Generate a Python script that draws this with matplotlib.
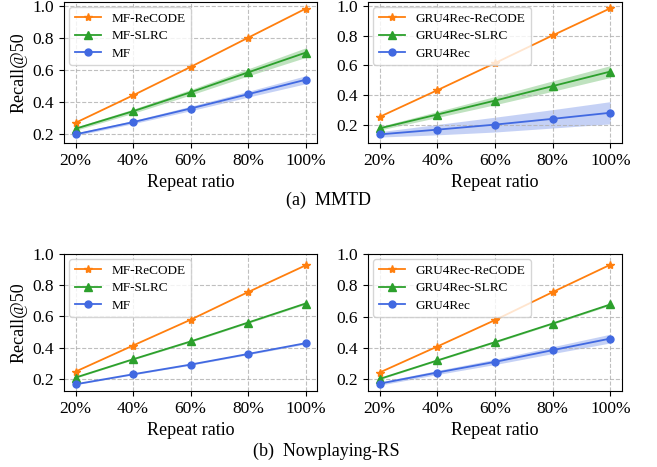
import numpy as np
import matplotlib
matplotlib.use("Agg")
import matplotlib.pyplot as plt

plt.rcParams['font.family'] = ['Liberation Serif', 'DejaVu Serif']
plt.rcParams['mathtext.fontset'] = 'stix'

ratios = [20, 40, 60, 80, 100]
tick_labels = ['20%', '40%', '60%', '80%', '100%']

# MMTD, MF backbone
mmtd_mf_recode = [0.272, 0.443, 0.620, 0.802, 0.983]
mmtd_mf_slrc = [0.235, 0.344, 0.462, 0.586, 0.709]
mmtd_mf_slrc_err = [0.010, 0.013, 0.017, 0.022, 0.030]
mmtd_mf = [0.200, 0.276, 0.361, 0.450, 0.540]
mmtd_mf_err = [0.008, 0.010, 0.014, 0.018, 0.025]

# MMTD, GRU4Rec backbone
mmtd_gru_recode = [0.252, 0.432, 0.615, 0.802, 0.985]
mmtd_gru_slrc = [0.175, 0.268, 0.362, 0.460, 0.558]
mmtd_gru_slrc_err = [0.012, 0.020, 0.028, 0.035, 0.040]
mmtd_gru = [0.134, 0.166, 0.200, 0.239, 0.280]
mmtd_gru_err = [0.018, 0.035, 0.050, 0.062, 0.075]

# Nowplaying-RS, MF backbone
np_mf_recode = [0.247, 0.414, 0.579, 0.756, 0.927]
np_mf_slrc = [0.209, 0.326, 0.440, 0.561, 0.683]
np_mf_slrc_err = [0.004, 0.004, 0.005, 0.005, 0.006]
np_mf = [0.166, 0.230, 0.292, 0.360, 0.429]
np_mf_err = [0.003, 0.004, 0.004, 0.005, 0.006]

# Nowplaying-RS, GRU4Rec backbone
np_gru_recode = [0.243, 0.409, 0.578, 0.757, 0.932]
np_gru_slrc = [0.202, 0.320, 0.437, 0.556, 0.678]
np_gru_slrc_err = [0.004, 0.004, 0.005, 0.005, 0.006]
np_gru = [0.172, 0.243, 0.311, 0.386, 0.460]
np_gru_err = [0.010, 0.013, 0.017, 0.022, 0.028]

c_orange = '#ff7f0e'
c_green = '#2ca02c'
c_blue = '#4169e1'

fig = plt.figure(figsize=(6.57, 4.67), dpi=100)
W, H = 657, 467


def add_ax(l, t, r, b):
    return fig.add_axes([l / W, 1 - b / H, (r - l) / W, (b - t) / H])


def panel(ax, recode, slrc, slrc_err, base, base_err, names, ylim, ylabel):
    x = np.array(ratios)
    ax.plot(x, recode, '-', marker='*', color=c_orange, lw=1.3, ms=6, label=names[0])
    s = np.array(slrc); se = np.array(slrc_err)
    ax.fill_between(x, s - se, s + se, color=c_green, alpha=0.3, lw=0)
    ax.plot(x, s, '-', marker='^', color=c_green, lw=1.3, ms=5.5, label=names[1])
    b = np.array(base); be = np.array(base_err)
    ax.fill_between(x, b - be, b + be, color=c_blue, alpha=0.3, lw=0)
    ax.plot(x, b, '-', marker='o', color=c_blue, lw=1.3, ms=5, label=names[2])
    ax.set_xticks(ratios)
    ax.set_xticklabels(tick_labels)
    ax.set_yticks([0.2, 0.4, 0.6, 0.8, 1.0])
    ax.set_ylim(*ylim)
    ax.grid(True, ls='--', color='#b0b0b0', lw=0.8, alpha=0.8)
    ax.tick_params(labelsize=12.5)
    ax.set_xlabel('Repeat ratio', fontsize=13)
    if ylabel:
        ax.set_ylabel('Recall@50', fontsize=13)
    ax.legend(loc='upper left', fontsize=9.5, handlelength=2.0, handletextpad=0.8,
              borderaxespad=0.4, labelspacing=0.4)


ax1 = add_ax(64, 2, 317, 143)
panel(ax1, mmtd_mf_recode, mmtd_mf_slrc, mmtd_mf_slrc_err, mmtd_mf, mmtd_mf_err,
      ['MF-ReCODE', 'MF-SLRC', 'MF'], (0.146, 1.025), True)
ax2 = add_ax(368, 2, 622, 143)
panel(ax2, mmtd_gru_recode, mmtd_gru_slrc, mmtd_gru_slrc_err, mmtd_gru, mmtd_gru_err,
      ['GRU4Rec-ReCODE', 'GRU4Rec-SLRC', 'GRU4Rec'], (0.076, 1.027), False)
ax3 = add_ax(64, 254, 317, 391)
panel(ax3, np_mf_recode, np_mf_slrc, np_mf_slrc_err, np_mf, np_mf_err,
      ['MF-ReCODE', 'MF-SLRC', 'MF'], (0.123, 1.0), True)
ax4 = add_ax(368, 254, 622, 391)
panel(ax4, np_gru_recode, np_gru_slrc, np_gru_slrc_err, np_gru, np_gru_err,
      ['GRU4Rec-ReCODE', 'GRU4Rec-SLRC', 'GRU4Rec'], (0.125, 1.0), False)

fig.text(328 / W, 1 - 200 / H, '(a)  MMTD', ha='center', va='center', fontsize=13)
fig.text(326 / W, 1 - 451 / H, '(b)  Nowplaying-RS', ha='center', va='center', fontsize=13)

fig.savefig('out.png', dpi=100)
